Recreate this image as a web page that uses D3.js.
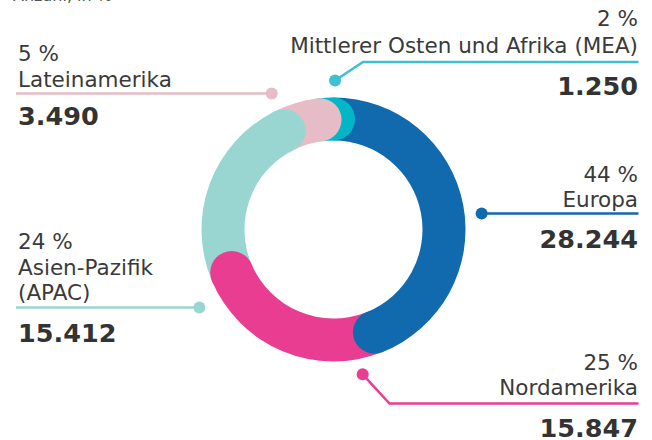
<!DOCTYPE html>
<html>
<head>
<meta charset="utf-8">
<script src="https://cdn.jsdelivr.net/npm/d3@7"></script>
<style>
  body { margin: 0; background: #fff; }
  svg text { font-family: "DejaVu Sans", Verdana, sans-serif; fill: #3a3a3a; }
  .pct, .name { font-size: 21.5px; }
  .value { font-size: 25.5px; font-weight: bold; fill: #333; }
  .title { font-size: 16px; fill: #555; }
</style>
</head>
<body>
<svg id="chart" width="652" height="440"></svg>
<script>
// data
var regions = ["Europa", "Nordamerika", "Asien-Pazifik\n(APAC)", "Lateinamerika", "Mittlerer Osten und Afrika (MEA)"];
var shares = [44, 25, 24, 5, 2];
var counts = [28244, 15847, 15412, 3490, 1250];
var colors = ["#1169ae", "#e93d91", "#9ad6d1", "#e6bcc6", "#00b6c7"];
var lineColors = ["#1169ae", "#e93d91", "#9ad6d1", "#e6bcc6", "#3cc0d2"];

var de = d3.formatLocale({decimal: ",", thousands: ".", grouping: [3], currency: ["", " €"]});
var fmt = de.format(",d");

var svg = d3.select("#chart"),
  cx = 333.5, cy = 229.5,
  rOuter = 132, rInner = 89,
  rMid = (rOuter + rInner) / 2,
  capR = (rOuter - rInner) / 2;

svg.append("text").attr("class", "title").attr("x", 13).attr("y", 1).text("Anzahl, in %");

var g = svg.append("g").attr("transform", "translate(" + cx + "," + cy + ")");

var rows = regions.map(function(r, i) {
  return {name: r, share: shares[i], count: counts[i], color: colors[i], line: lineColors[i], i: i};
});

var pie = d3.pie().sort(null).value(function(d) { return d.count; });
var arcs = pie(rows);

var arc = d3.arc().innerRadius(rInner).outerRadius(rOuter);

// flat sectors first
g.append("g").selectAll("path")
  .data(arcs)
  .enter().append("path")
  .attr("d", arc)
  .attr("fill", function(d) { return d.data.color; });

// round end caps: each one lies over the start of the next segment
var capOrder = [4, 3, 2, 1, 0].map(function(i) { return arcs[i]; });
g.append("g").selectAll("circle")
  .data(capOrder)
  .enter().append("circle")
  .attr("cx", function(d) { return d3.pointRadial(d.endAngle, rMid)[0]; })
  .attr("cy", function(d) { return d3.pointRadial(d.endAngle, rMid)[1]; })
  .attr("r", capR)
  .attr("fill", function(d) { return d.data.color; });

// callout layout (screen positions)
var callouts = [
  {anchor: "end", x: 638, pctY: 182, nameY: 207, lineY: 213.5, valueY: 248, dotA: 96.2, dotR: 149, x1: 638.5},
  {anchor: "end", x: 638, pctY: 370, nameY: 395, lineY: 403.5, valueY: 436.5, dotA: 168.6, dotR: 147.7, elbowX: 389.5, x1: 638.5},
  {anchor: "start", x: 18, pctY: 248.5, nameY: 275, lineY: 307.5, valueY: 341.5, dotA: 239.9, dotR: 155, x1: 16},
  {anchor: "start", x: 18, pctY: 61, nameY: 86.5, lineY: 93.5, valueY: 125, dotA: 335.6, dotR: 149.6, x1: 16},
  {anchor: "end", x: 638, pctY: 26, nameY: 53, lineY: 62, valueY: 95, dotA: 0.6, dotR: 149, elbowX: 363, x1: 638.5}
];

var labels = svg.append("g").selectAll("g")
  .data(rows)
  .enter().append("g");

labels.each(function(d, i) {
  var c = callouts[i], sel = d3.select(this);
  var p = d3.pointRadial(c.dotA * Math.PI / 180, c.dotR);
  var dx = cx + p[0], dy = cy + p[1];
  var pts;
  if (c.elbowX != null) {
    pts = [[dx, dy], [c.elbowX, c.lineY], [c.x1, c.lineY]];
  } else {
    pts = [[dx, c.lineY], [c.x1, c.lineY]];
    dy = c.lineY;
  }
  sel.append("path")
    .attr("d", d3.line()(pts))
    .attr("fill", "none")
    .attr("stroke", d.line)
    .attr("stroke-width", 2.5);
  sel.append("circle")
    .attr("cx", dx).attr("cy", dy).attr("r", 6)
    .attr("fill", d.line);

  sel.append("text").attr("class", "pct")
    .attr("x", c.x).attr("y", c.pctY)
    .attr("text-anchor", c.anchor)
    .text(d.share + " %");
  d.name.split("\n").forEach(function(line, k) {
    sel.append("text").attr("class", "name")
      .attr("x", c.x).attr("y", c.nameY + k * 25)
      .attr("text-anchor", c.anchor)
      .text(line);
  });
  sel.append("text").attr("class", "value")
    .attr("x", c.x).attr("y", c.valueY)
    .attr("text-anchor", c.anchor)
    .text(fmt(d.count));
});
</script>
</body>
</html>
